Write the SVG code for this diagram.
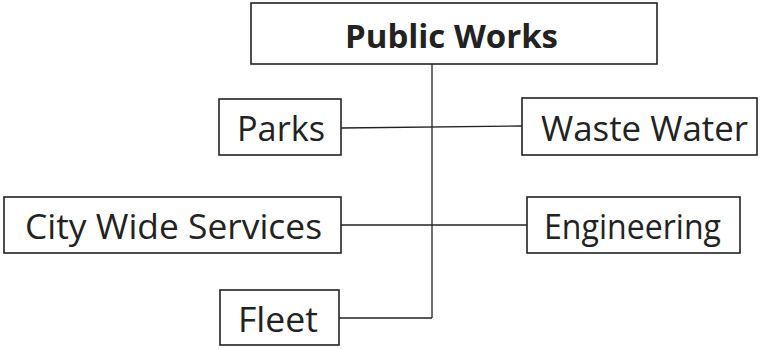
<svg xmlns="http://www.w3.org/2000/svg" width="768" height="349" viewBox="0 0 768 349">
<style>
.box{fill:#fff;stroke:#222;stroke-width:1.6}
.t{font-family:"Open Sans","Liberation Sans",sans-serif;font-size:34px;fill:#222}
.b{font-weight:bold;font-size:33px}
.c{stroke:#222;stroke-width:1.3;fill:none}
</style>
<rect width="768" height="349" fill="#fff"/>
<g id="connectors">
<line class="c" x1="432" y1="64" x2="432" y2="318"/>
<line class="c" x1="341" y1="128" x2="522" y2="126"/>
<line class="c" x1="341" y1="225" x2="527" y2="225"/>
<polyline class="c" points="339,318 432,318"/>
</g>
<g id="public-works">
<rect class="box" x="251" y="3" width="406" height="61"/>
<text class="t b" x="345" y="48" textLength="213" lengthAdjust="spacingAndGlyphs">Public Works</text>
</g>
<g id="parks">
<rect class="box" x="219" y="99" width="122" height="56"/>
<text class="t" x="237" y="141" textLength="88" lengthAdjust="spacingAndGlyphs">Parks</text>
</g>
<g id="waste-water">
<rect class="box" x="522" y="98" width="235" height="57"/>
<text class="t" x="541" y="141" textLength="207" lengthAdjust="spacingAndGlyphs">Waste Water</text>
</g>
<g id="city-wide-services">
<rect class="box" x="4" y="197" width="337" height="56"/>
<text class="t" x="25" y="239" textLength="297" lengthAdjust="spacingAndGlyphs">City Wide Services</text>
</g>
<g id="engineering">
<rect class="box" x="527" y="197" width="213" height="56"/>
<text class="t" x="544" y="239" textLength="177" lengthAdjust="spacingAndGlyphs">Engineering</text>
</g>
<g id="fleet">
<rect class="box" x="220" y="290" width="119" height="55"/>
<text class="t" x="238" y="332" textLength="80" lengthAdjust="spacingAndGlyphs">Fleet</text>
</g>
</svg>
